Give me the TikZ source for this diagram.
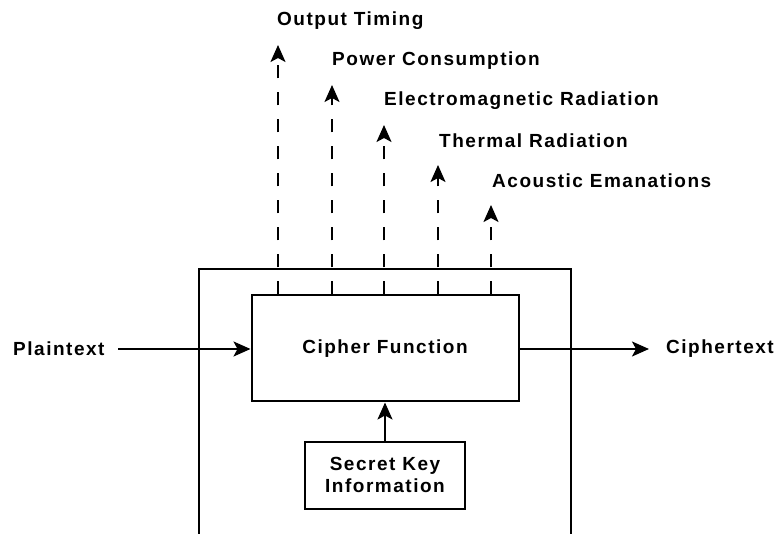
\documentclass[tikz,border=0pt]{standalone}
\usepackage{fontspec}
\setmainfont{Liberation Sans}[LetterSpace=8]
\usetikzlibrary{arrows.meta}
\begin{document}
\begin{tikzpicture}[x=1pt,y=-1pt,
  txt/.style={font=\fontsize{19}{22}\selectfont\bfseries, inner sep=0pt},
  boxnode/.style={draw, line width=2pt, inner sep=0pt, align=center, font=\fontsize{19}{22}\selectfont\bfseries},
  tip/.style={-{Stealth[length=17pt,width=15pt,inset=4pt]}},
  flow/.style={line width=2pt, tip},
  leak/.style={line width=2pt, tip, dash pattern=on 13pt off 14pt}]
\useasboundingbox (0,0) rectangle (779,534);
\fill[white] (0,0) rectangle (779,534);
% outer enclosure (open at the bottom)
\coordinate (oBL) at (199,540);
\coordinate (oTL) at (199,269);
\coordinate (oTR) at (571,269);
\coordinate (oBR) at (571,540);
\draw[line width=2pt] (oBL) -- (oTL) -- (oTR) -- (oBR);
% main boxes
\node[boxnode, minimum width=267pt, minimum height=106pt] (cipher) at (385,348.5) {Cipher Function};
\node[boxnode, minimum width=160pt, minimum height=67pt] (key) at (385,475) {Secret Key\\Information};
\draw[flow] (key) -- (cipher);
% plaintext / ciphertext
\node[txt, anchor=west] (plain) at (13,349) {Plaintext};
\node[txt, anchor=west] (cipherout) at (666,349) {Ciphertext};
\coordinate (pStart) at (118,349);
\coordinate (cEnd) at (649,349);
\draw[flow] (pStart) -- (cipher.west |- pStart);
\draw[flow] (cipher.east |- cEnd) -- (cEnd);
% side-channel leak arrows
\coordinate (t1) at (278,45);
\coordinate (t2) at (332,85);
\coordinate (t3) at (384,125);
\coordinate (t4) at (438,165);
\coordinate (t5) at (491,205);
\foreach \i in {1,...,5} {
  \draw[leak] (t\i |- cipher.north) -- (t\i);
}
\node[txt, anchor=west] (l1) at (277,21) {Output Timing};
\node[txt, anchor=west] (l2) at (332,61) {Power Consumption};
\node[txt, anchor=west] (l3) at (384,101) {Electromagnetic Radiation};
\node[txt, anchor=west] (l4) at (439,141) {Thermal Radiation};
\node[txt, anchor=west] (l5) at (492,181) {Acoustic Emanations};
\end{tikzpicture}
\end{document}
